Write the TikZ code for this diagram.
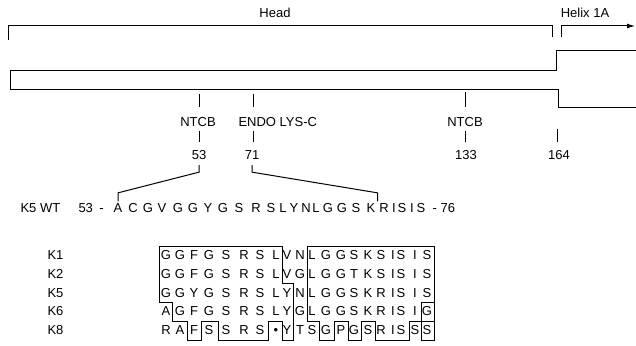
\documentclass[tikz,border=0pt]{standalone}
\usepackage{fontspec}
\setmainfont{Liberation Sans}
\usetikzlibrary{arrows.meta,calc}

\tikzset{
  lbl/.style={font=\fontsize{13}{15}\selectfont, inner sep=0pt, text height=9.3pt, text depth=0pt},
  res/.style={lbl},
  boxline/.style={line width=0.8pt},
}

\begin{document}
\begin{tikzpicture}[x=1pt, y=-1pt, line width=1pt]
    \useasboundingbox (0,0) rectangle (636,345);

    % Domain brackets
    \node[lbl] (head) at (275,13) {Head};
    \node[lbl] (helix) at (585,13) {Helix 1A};
    \draw (8,40) -- (8,26) -- (552,26) -- (552,37);
    \draw[-{Latex[length=8pt,width=5pt]}] (561,37) -- (561,26) -- (635,26);

    % Rod
    \draw (636,51) -- (556,51) -- (556,70) -- (10,70) -- (10,89) -- (558,89) -- (558,107) -- (636,107);

    % Cleavage sites
    \draw (199,94) -- (199,107);
    \draw (253,94) -- (253,107);
    \draw (465,92) -- (465,107);
    \node[lbl] (ntcbA) at (198,122) {NTCB};
    \node[lbl, anchor=west] (endo) at (238,122) {ENDO LYS-C};
    \node[lbl] (ntcbB) at (465,122) {NTCB};
    \draw (199,131) -- (199,142);
    \draw (253,131) -- (253,142);
    \draw (465,131) -- (465,142);
    \draw (557,129) -- (557,142);
    \node[lbl] (n53) at (199,155) {53};
    \node[lbl] (n71) at (252,155) {71};
    \node[lbl] (n133) at (466,155) {133};
    \node[lbl] (n164) at (559,155) {164};

    % Wild type sequence
    \node[lbl, anchor=west] (wtlbl) at (20,208) {K5 WT};
    \node[lbl, anchor=west] (wtstart) at (78,208) {53\hspace{0.5em}-};
    \foreach \aa/\wx [count=\i] in {A/118,C/133,G/148,V/162,G/178,G/193,Y/208,G/223,S/239,R/256,S/271,L/283,
        Y/294,N/306,L/316,G/328,G/342,S/356,K/371,R/384,I/394,S/402,I/412,S/421}
        \node[res] (w\i) at (\wx,208) {\aa};
    \node[lbl, anchor=west] (wtend) at (432,208) {-\hspace{0.3em}76};

    % Fragment brackets
    \coordinate (cut71) at ($(w19.north)!0.5!(w20.north)$);
    \draw ([yshift=-5pt]n53.south) -- ++(0,7) -- ([yshift=10pt]w1.north) -- ([yshift=1.5pt]w1.north);
    \draw ([yshift=-5pt]n71.south) -- ++(0,7) -- ([yshift=10pt]cut71) -- ([yshift=1.5pt]cut71);

    % Clone sequences
    \def\colx{{166,180,194,209,226,244,260,276,287,300,312,326,341,354,368,381,393,401,415,427}}
    \foreach \k [count=\r] in {K1,K2,K5,K6,K8} {
        \pgfmathsetmacro\ry{255+18.75*(\r-1)}
        \node[lbl, anchor=west] (k\r) at (47,\ry) {\k};
    }
    \foreach \seq [count=\r] in {
        {G,G,F,G,S,R,S,L,V,N,L,G,G,S,K,S,I,S,I,S},
        {G,G,F,G,S,R,S,L,V,G,L,G,G,T,K,S,I,S,I,S},
        {G,G,Y,G,S,R,S,L,Y,N,L,G,G,S,K,R,I,S,I,S},
        {A,G,F,G,S,R,S,L,Y,G,L,G,G,S,K,R,I,S,I,G},
        {R,A,F,S,S,R,S,•,Y,T,S,G,P,G,S,R,I,S,S,S}} {
        \pgfmathsetmacro\ry{255+18.75*(\r-1)}
        \foreach \aa [count=\c] in \seq {
            \pgfmathsetmacro\cx{\colx[\c-1]}
            \node[res] (a\r-\c) at (\cx,\ry) {\aa};
        }
    }

    % Conserved blocks
    \draw[boxline] (159,246) -- (282,246) -- (282,283) -- (293,283) -- (293,340) -- (282,340) -- (282,321)
        -- (268,321) -- (268,340) -- (218,340) -- (218,321) -- (201,321) -- (201,340) -- (187,340)
        -- (187,321) -- (172,321) -- (172,302) -- (159,302) -- cycle;
    \draw[boxline] (307,246) -- (434,246) -- (434,302) -- (421,302) -- (421,321) -- (409,321) -- (409,340)
        -- (375,340) -- (375,321) -- (361,321) -- (361,340) -- (348,340) -- (348,321) -- (334,321)
        -- (334,340) -- (319,340) -- (319,321) -- (307,321) -- cycle;
    \draw[boxline] (421,302) rectangle (434,321);
    \draw[boxline] (421,321) rectangle (434,340);
\end{tikzpicture}
\end{document}
